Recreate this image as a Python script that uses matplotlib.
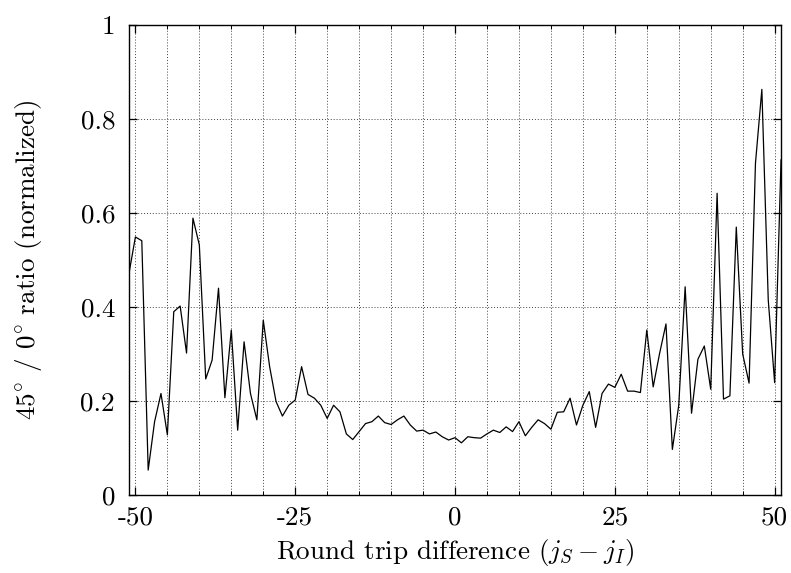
import matplotlib
matplotlib.use("Agg")
import matplotlib.pyplot as plt
from matplotlib.ticker import MultipleLocator

plt.rcParams["font.family"] = "serif"
plt.rcParams["font.serif"] = ["cmr10", "DejaVu Serif"]
plt.rcParams["mathtext.fontset"] = "cm"
plt.rcParams["axes.unicode_minus"] = False
plt.rcParams["axes.formatter.use_mathtext"] = True

# Round trip difference j_S - j_I
round_trip = list(range(-51, 52))

# Normalized 45°/0° ratio per round trip difference
ratio = [
    0.472, 0.549, 0.541, 0.053, 0.156, 0.216, 0.128, 0.390, 0.402, 0.302,  # -51 .. -42
    0.589, 0.532, 0.247, 0.287, 0.440, 0.207, 0.351, 0.138, 0.326, 0.216,  # -41 .. -32
    0.160, 0.372, 0.273, 0.199, 0.168, 0.191, 0.202, 0.273, 0.214, 0.206,  # -31 .. -22
    0.191, 0.163, 0.191, 0.177, 0.130, 0.118, 0.135, 0.152, 0.156, 0.168,  # -21 .. -12
    0.154, 0.150, 0.160, 0.168, 0.149, 0.136, 0.138, 0.130, 0.134, 0.124,  # -11 .. -2
    0.117, 0.122, 0.111, 0.124, 0.122, 0.121, 0.130, 0.138, 0.133, 0.145,  # -1 .. 8
    0.135, 0.156, 0.126, 0.144, 0.160, 0.152, 0.140, 0.176, 0.177, 0.206,  # 9 .. 18
    0.149, 0.191, 0.220, 0.144, 0.216, 0.236, 0.229, 0.257, 0.221, 0.221,  # 19 .. 28
    0.218, 0.351, 0.230, 0.301, 0.364, 0.097, 0.191, 0.443, 0.174, 0.289,  # 29 .. 38
    0.317, 0.225, 0.642, 0.204, 0.211, 0.570, 0.300, 0.238, 0.706, 0.863,  # 39 .. 48
    0.415, 0.239, 0.713,                                                   # 49 .. 51
]

x_ticks = [-50, -25, 0, 25, 50]
x_tick_labels = ["-50", "-25", "0", "25", "50"]
y_ticks = [0, 0.2, 0.4, 0.6, 0.8, 1.0]
y_tick_labels = ["0", "0.2", "0.4", "0.6", "0.8", "1"]

FS = 19.5

fig = plt.figure(figsize=(7.91, 5.73), dpi=100)
ax = fig.add_axes([0.1631, 0.1361, 0.8243, 0.8203])

ax.plot(round_trip, ratio, color="black", linewidth=0.9)

ax.set_xlim(-51, 51)
ax.set_ylim(0, 1)
ax.set_xticks(x_ticks)
ax.set_xticklabels(x_tick_labels)
ax.xaxis.set_minor_locator(MultipleLocator(5))
ax.set_yticks(y_ticks)
ax.set_yticklabels(y_tick_labels)

ax.tick_params(axis="both", which="major", direction="in", length=6, width=0.9,
               top=True, right=True, labelsize=FS)
ax.tick_params(axis="y", which="major", pad=10)
ax.tick_params(axis="x", which="major", pad=8)
ax.tick_params(axis="both", which="minor", direction="in", length=3, width=0.7,
               top=True, right=True)

ax.grid(True, which="major", axis="y", linestyle=(0, (1, 2)), color="#444444", linewidth=0.7)
ax.grid(True, which="both", axis="x", linestyle=(0, (1, 2)), color="#444444", linewidth=0.7)

for spine in ax.spines.values():
    spine.set_linewidth(1.0)

ax.set_xlabel(r"Round trip difference $(j_S - j_I)$", fontsize=FS, labelpad=5)
ax.set_ylabel(r"$45^{\!\circ}\!$ / $0^{\!\circ}\!$ ratio (normalized)", fontsize=FS, labelpad=26)

fig.savefig("out.png", dpi=100)
